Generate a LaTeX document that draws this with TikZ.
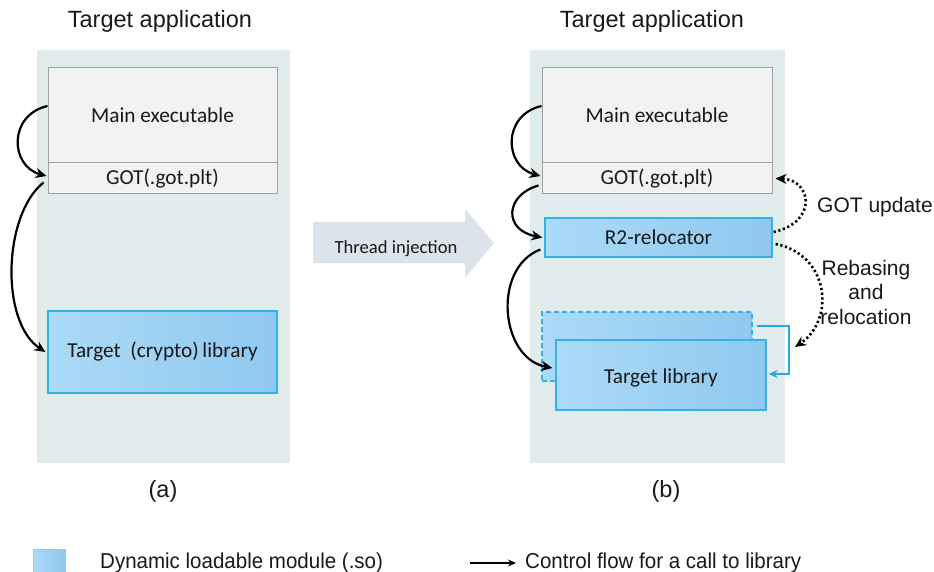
\documentclass[tikz,border=0pt]{standalone}
\usepackage{fontspec}
\setmainfont{Carlito}
\newfontfamily\arialf{Liberation Sans}
\newfontfamily\narrowf[FakeStretch=0.95]{Liberation Sans}
\usetikzlibrary{arrows.meta}
\definecolor{panelbg}{RGB}{224,235,235}
\definecolor{boxgray}{RGB}{242,242,242}
\definecolor{boxedge}{RGB}{160,160,160}
\definecolor{bluetop}{RGB}{172,218,247}
\definecolor{bluebot}{RGB}{143,200,239}
\definecolor{blueedge}{RGB}{52,178,230}
\definecolor{injfill}{RGB}{220,227,234}
\definecolor{cyanline}{RGB}{41,168,224}
\tikzset{
  graybox/.style={draw=boxedge, line width=1pt, fill=boxgray, inner sep=0pt, text=black!90, font=\fontsize{21.3}{25}\selectfont},
  bluebox/.style={draw=blueedge, line width=1.3pt, left color=bluetop, right color=bluebot, inner sep=0pt, text=black!90, font=\fontsize{21.3}{25}\selectfont},
  call/.style={-{Stealth[length=11pt,width=10pt]}, line width=2.2pt, black},
  dotarrow/.style={line width=2.6pt, dash pattern=on 2.2pt off 2.6pt, -{Stealth[length=11pt,width=10pt]}, black},
  titletext/.style={font=\arialf\fontsize{23.5}{28}\selectfont, text=black!90},
  sidetext/.style={font=\arialf\fontsize{21}{24.5}\selectfont, text=black!90},
  legtext/.style={font=\narrowf\fontsize{21.6}{26}\selectfont, text=black!90, anchor=base west, inner sep=0pt}
}
\begin{document}
\begin{tikzpicture}[x=1pt,y=-1pt]
\useasboundingbox (0,0) rectangle (934,572);
% panels
\fill[panelbg] (37,50) rectangle (290,463);
\fill[panelbg] (530,50) rectangle (785,463);
% titles
\node[titletext] (ta) at (160,21.5) {Target application};
\node[titletext] (tb) at (652,21.5) {Target application};
\node[titletext] (la) at (163,491.5) {(a)};
\node[titletext] (lb) at (666,491.5) {(b)};
% left panel
\node[graybox, minimum width=229pt, minimum height=95pt] (lm) at (162.5,115.5) {Main executable};
\node[graybox, minimum width=229pt, minimum height=31pt] (lg) at (162.5,178.5) {GOT(.got.plt)};
\node[bluebox, minimum width=229pt, minimum height=82pt] (lt) at (162.5,352) {Target\ \ (crypto)\,library};
\draw[call] ([yshift=9.5pt]lm.west) .. controls (8,115) and (10,166) .. ([yshift=2.5pt,xshift=-1pt]lg.west);
\draw[call] ([yshift=-4pt,xshift=-4pt]lg.west) .. controls (3,215) and (0,322) .. ([xshift=-2pt]lt.west);
% thread injection arrow
\fill[injfill] (313,222) -- (465,222) -- (465,209) -- (494,243) -- (465,278) -- (465,263) -- (313,263) -- cycle;
\node[font=\fontsize{18.6}{22}\selectfont, text=black!90] (inj) at (396,249) {Thread injection};
% right panel
\node[graybox, minimum width=230pt, minimum height=95pt] (rm) at (657,115.5) {Main executable};
\node[graybox, minimum width=230pt, minimum height=31pt] (rg) at (657,178.5) {GOT(.got.plt)};
\node[bluebox, minimum width=227pt, minimum height=39pt] (rr) at (658.5,237.5) {R2-relocator};
\node[bluebox, dashed, dash pattern=on 5pt off 3pt, minimum width=210pt, minimum height=69pt] (rd) at (647,346.5) {};
\node[bluebox, minimum width=210pt, minimum height=70pt, text depth=0pt] (rt) at (661,375) {\raisebox{-3pt}{Target library}};
\draw[call] ([yshift=9.5pt]rm.west) .. controls (502,115) and (504,166) .. ([yshift=2.5pt,xshift=-1pt]rg.west);
\draw[call] ([yshift=-7pt,xshift=-3pt]rg.west) .. controls (505,195) and (503,230) .. ([xshift=-2pt]rr.west);
\draw[call] ([yshift=-12pt,xshift=-4pt]rr.west) .. controls (492,268) and (500,358) .. ([xshift=-3pt,yshift=7pt]rt.west);
% cyan relocation bracket
\draw[cyanline, line width=2pt, -{Stealth[length=9pt,width=8pt]}] ([xshift=4pt,yshift=20.5pt]rd.east) -- (789,326) -- (789,374) -- ([xshift=2pt,yshift=1pt]rt.east);
% dotted arrows
\draw[dotarrow] ([xshift=1pt,yshift=5.5pt]rr.east) .. controls (818,222) and (812,180) .. ([xshift=3pt]rg.east);
\draw[dotarrow] ([xshift=3pt,yshift=-6.5pt]rr.east) .. controls (830,255) and (835,320) .. (795,347);
\node[sidetext, anchor=west, inner sep=0pt] (gu) at (817,207) {GOT update};
\node[sidetext, align=center] (rb) at (866,292) {Rebasing\\and\\relocation};
% legend
\node[draw=blueedge!60, line width=0.8pt, left color=bluetop, right color=bluebot, minimum width=32pt, minimum height=30pt, inner sep=0pt] (lgbox) at (49,564) {};
\node[legtext] (lgt1) at (100,568) {Dynamic loadable module (.so)};
\coordinate (la1) at (470,563);
\node[legtext] (lgt2) at (525,568) {Control flow for a call to library};
\draw[-{Stealth[length=8pt,width=7pt]}, line width=1.6pt] (la1) -- ([xshift=-9pt,yshift=5pt]lgt2.base west);
\end{tikzpicture}
\end{document}
